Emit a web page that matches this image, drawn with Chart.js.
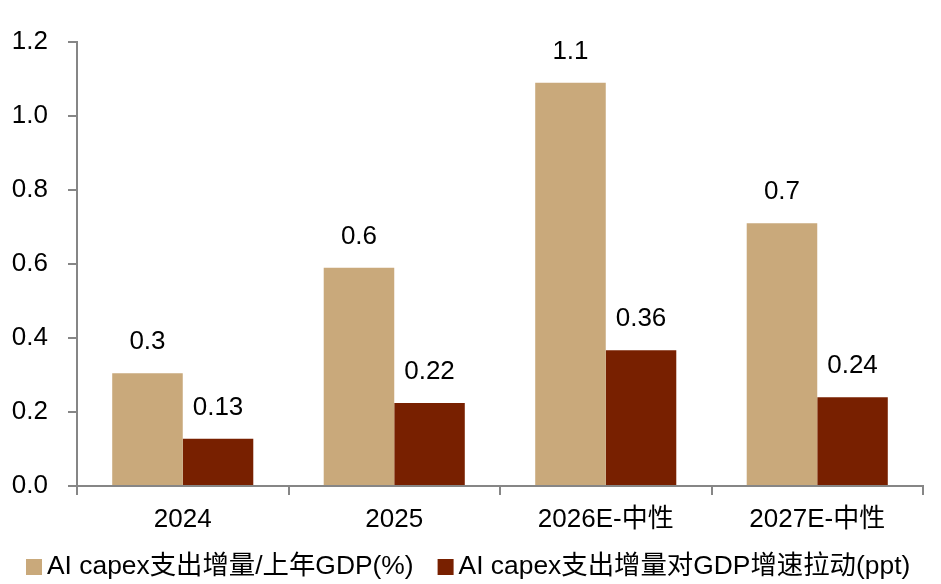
<!DOCTYPE html>
<html>
<head>
<meta charset="utf-8">
<script src="https://cdn.jsdelivr.net/npm/chart.js@4.4.1/dist/chart.umd.min.js"></script>
<style>
  html, body { margin: 0; padding: 0; background: #fff; }
  #wrap { width: 941px; height: 584px; }
</style>
</head>
<body>
<div id="wrap"><canvas id="myChart"></canvas></div>
<script>
// data
const categories = ["2024", "2025", "2026E-中性", "2027E-中性"];
const capexShare = [0.305, 0.59, 1.09, 0.71];
const gdpPull = [0.128, 0.224, 0.367, 0.24];
const capexShareLabels = ["0.3", "0.6", "1.1", "0.7"];
const gdpPullLabels = ["0.13", "0.22", "0.36", "0.24"];
const seriesNames = ["AI capex支出增量/上年GDP(%)", "AI capex支出增量对GDP增速拉动(ppt)"];
const yTicks = [0, 0.2, 0.4, 0.6, 0.8, 1.0, 1.2];

const FONT = "'Liberation Sans', Arial, 'Noto Sans CJK SC', sans-serif";
const axisGray = "#868686";

// draws the value text above each bar
const barLabels = {
  id: "barLabels",
  afterDatasetsDraw(chart) {
    const ctx = chart.ctx;
    const texts = [capexShareLabels, gdpPullLabels];
    ctx.save();
    ctx.font = "26px " + FONT;
    ctx.fillStyle = "#000";
    ctx.textAlign = "center";
    ctx.textBaseline = "middle";
    chart.data.datasets.forEach((ds, i) => {
      chart.getDatasetMeta(i).data.forEach((bar, j) => {
        ctx.fillText(texts[i][j], bar.x, bar.y - 31);
      });
    });
    ctx.restore();
  },
};

// legend with tight square-to-text spacing, like the original
const tightLegend = {
  id: "tightLegend",
  afterDraw(chart) {
    const ctx = chart.ctx;
    const baseline = 574;
    let x = 26;
    ctx.save();
    ctx.font = "26.4px " + FONT;
    ctx.textBaseline = "alphabetic";
    ctx.textAlign = "left";
    chart.data.datasets.forEach((ds) => {
      ctx.fillStyle = ds.backgroundColor;
      ctx.fillRect(x, baseline - 15, 16, 16);
      ctx.fillStyle = "#000";
      ctx.fillText(ds.label, x + 21, baseline);
      x += 21 + ctx.measureText(ds.label).width + 24;
    });
    ctx.restore();
  },
};

const ctx = document.getElementById("myChart");

new Chart(ctx, {
  type: "bar",
  data: {
    labels: categories,
    datasets: [
      {
        label: seriesNames[0],
        data: capexShare,
        backgroundColor: "#C9A97B",
        categoryPercentage: 0.667,
        barPercentage: 1,
      },
      {
        label: seriesNames[1],
        data: gdpPull,
        backgroundColor: "#782000",
        categoryPercentage: 0.667,
        barPercentage: 1,
      },
    ],
  },
  options: {
    responsive: true,
    maintainAspectRatio: false,
    animation: false,
    layout: { padding: { top: 42, right: 18, left: 0, bottom: 45 } },
    plugins: {
      tooltip: { enabled: false },
      legend: { display: false },
    },
    scales: {
      x: {
        grid: {
          offset: true,
          drawOnChartArea: false,
          color: axisGray,
          lineWidth: 2,
          tickLength: 9,
        },
        border: { color: axisGray, width: 2 },
        ticks: {
          color: "#000",
          padding: 9,
          font: { family: FONT, size: 26 },
        },
        afterFit(scale) {
          scale.height = 53;
        },
      },
      y: {
        min: 0,
        max: 1.2,
        afterBuildTicks(scale) {
          scale.ticks = yTicks.map((v) => ({ value: v }));
        },
        grid: {
          drawOnChartArea: false,
          color: axisGray,
          lineWidth: 2,
          tickLength: 9,
        },
        border: { color: axisGray, width: 2 },
        ticks: {
          color: "#000",
          padding: 20,
          font: { family: FONT, size: 26 },
          callback: (v) => v.toFixed(1),
        },
        afterFit(scale) {
          scale.width = 77;
        },
      },
    },
  },
  plugins: [barLabels, tightLegend],
});
</script>
</body>
</html>
